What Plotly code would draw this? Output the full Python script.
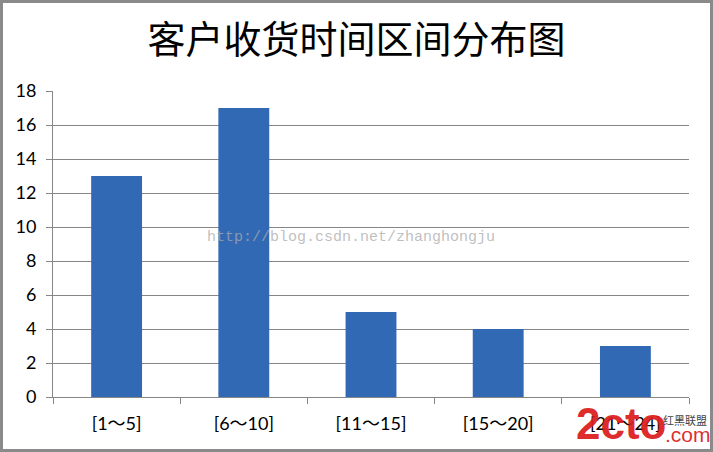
import plotly.graph_objects as go

title = "客户收货时间区间分布图"
categories = ["[1～5]", "[6～10]", "[11～15]", "[15～20]", "[21～24]"]
values = [13, 17, 5, 4, 3]
y_ticks = [0, 2, 4, 6, 8, 10, 12, 14, 16, 18]

W, H = 713, 452
L, R, T, B = 53, 24, 91, 55
PW, PH = W - L - R, H - T - B


def px(x):
    return (x - L) / PW


def py(y):
    return (H - B - y) / PH


fig = go.Figure()
fig.add_trace(go.Bar(
    x=categories, y=values, width=0.4,
    marker=dict(color="#3269b5", line=dict(width=0)),
    hoverinfo="x+y",
))

fig.update_layout(
    width=W, height=H,
    margin=dict(l=L, r=R, t=T, b=B, autoexpand=False),
    paper_bgcolor="white", plot_bgcolor="white",
    showlegend=False,
    title=dict(text=title, x=0.5, xanchor="center", y=0.913, yanchor="middle",
               font=dict(family="Noto Sans CJK SC", size=38, color="black")),
    font=dict(family="Lato, Noto Sans CJK SC", size=18, color="black"),
    xaxis=dict(showline=True, linecolor="#868686", linewidth=1,
               ticks="outside", ticklen=6, tickcolor="#868686",
               tickson="boundaries", showgrid=False, automargin=False,
               ticklabelstandoff=10,
               tickfont=dict(family="Lato, Noto Sans CJK SC", size=18)),
    yaxis=dict(range=[0, 18], tickvals=y_ticks, showline=True,
               linecolor="#868686", linewidth=1, ticks="outside", ticklen=6,
               tickcolor="#868686", showgrid=True, gridcolor="#868686",
               gridwidth=1, zeroline=False, automargin=False,
               ticklabelstandoff=6,
               tickfont=dict(family="Lato", size=18)),
    shapes=[dict(type="rect", xref="paper", yref="paper",
                 x0=px(1.5), x1=px(W - 1.5), y0=py(H - 1.5), y1=py(1.5),
                 line=dict(color="#8a8a8a", width=3))],
    annotations=[
        dict(text="http://blog.csdn.net/zhanghongju", xref="paper", yref="paper",
             x=px(205), y=py(237), xanchor="left", yanchor="middle",
             showarrow=False,
             font=dict(family="Liberation Mono", size=15, color="rgba(170,170,170,0.75)")),
        dict(text="<b>2cto</b>", xref="paper", yref="paper",
             x=px(574), y=py(450), xanchor="left", yanchor="bottom",
             showarrow=False,
             font=dict(family="Liberation Sans", size=44, color="rgba(220,30,30,0.95)")),
        dict(text=".com", xref="paper", yref="paper",
             x=px(663), y=py(448), xanchor="left", yanchor="bottom",
             showarrow=False,
             font=dict(family="Liberation Sans", size=21, color="rgba(220,30,30,0.95)")),
        dict(text="红黑联盟", xref="paper", yref="paper",
             x=px(709), y=py(420), xanchor="right", yanchor="middle",
             showarrow=False,
             font=dict(family="Noto Sans CJK SC", size=11, color="#444")),
    ],
)

fig.write_html("out.html", config={"displayModeBar": False},
               post_script="document.body.style.margin='0';document.body.style.overflow='hidden';")
